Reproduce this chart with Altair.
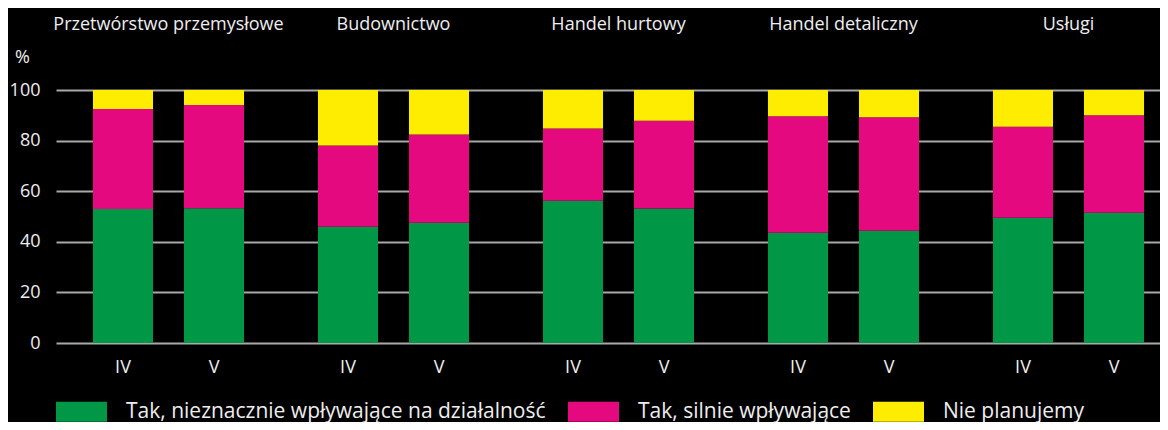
import altair as alt
import pandas as pd

FONT = "Open Sans"
TXT = "#eeeeee"

sectors = ["Przetwórstwo przemysłowe", "Budownictwo", "Handel hurtowy", "Handel detaliczny", "Usługi"]
periods = ["IV", "V"]
series = ["Tak, nieznacznie wpływające na działalność", "Tak, silnie wpływające", "Nie planujemy"]
colors = ["#009846", "#E5097F", "#FFED00"]

# values per sector, in order IV, V
slight = [53.0, 53.3, 45.9, 47.5, 56.2, 53.2, 43.6, 44.4, 49.5, 51.5]
strong = [39.5, 40.8, 32.2, 34.9, 28.6, 34.6, 46.0, 44.8, 36.0, 38.5]
notplan = [7.5, 5.9, 21.9, 17.6, 15.2, 12.2, 10.4, 10.8, 14.5, 10.0]

rows = []
i = 0
for s in sectors:
    for p in periods:
        for k, (name, vals) in enumerate(zip(series, [slight, strong, notplan])):
            rows.append({"sector": s, "period": p, "series": name, "value": vals[i], "ord": k})
        i += 1
df = pd.DataFrame(rows)

rect_path = "M-1,-0.39L1,-0.39L1,0.39L-1,0.39Z"

x_scale = alt.Scale(paddingInner=0, paddingOuter=0)
x_enc = alt.X("sector:N", sort=sectors, scale=x_scale,
              axis=alt.Axis(title=None, orient="top", labelAngle=0, ticks=False, domain=False,
                            grid=False, labelFontSize=18, labelColor=TXT, labelFont=FONT,
                            labelPadding=57, labelLimit=400))
xo_enc = alt.XOffset("period:N", sort=periods,
                     scale=alt.Scale(paddingInner=0.34, paddingOuter=0.406))

bars = alt.Chart(df).mark_bar().encode(
    x=x_enc,
    xOffset=xo_enc,
    y=alt.Y("value:Q", stack="zero",
            scale=alt.Scale(domain=[0, 100], nice=False),
            axis=alt.Axis(values=[0, 20, 40, 60, 80, 100], title="%", titleAngle=0,
                          titleAlign="center", titleBaseline="middle", titleX=-34, titleY=-33,
                          titleFontSize=18, titleFontWeight="normal", titleColor=TXT, titleFont=FONT,
                          ticks=False, domain=False, labelFontSize=18, labelColor=TXT,
                          labelFont=FONT, labelPadding=16, grid=True,
                          gridColor="#a8a8a8", gridWidth=2)),
    color=alt.Color("series:N", sort=series,
                    scale=alt.Scale(domain=series, range=colors),
                    legend=alt.Legend(title=None, orient="bottom", direction="horizontal",
                                      columns=3, symbolType=rect_path, symbolSize=2601,
                                      symbolStrokeWidth=0, labelFontSize=21, labelColor=TXT,
                                      labelFont=FONT, labelOffset=19, columnPadding=22,
                                      offset=43, labelLimit=600)),
    order=alt.Order("ord:Q"),
)

period_labels = alt.Chart(df).transform_filter(alt.datum.ord == 0).mark_text(
    fontSize=18, font=FONT, color=TXT, baseline="middle", align="center"
).encode(
    x=alt.X("sector:N", sort=sectors),
    xOffset=alt.XOffset("period:N", sort=periods),
    y=alt.datum(-10),
    text="period:N",
)

chart = alt.layer(bars, period_labels).properties(
    width=1125, height=253,
    background="black",
    autosize=alt.AutoSizeParams(type="none"),
    padding={"left": 48, "top": 82, "right": -21, "bottom": 79},
).configure_view(stroke=None, strokeWidth=0)

chart.save("out.html", embed_options={"renderer": "svg", "actions": False})
